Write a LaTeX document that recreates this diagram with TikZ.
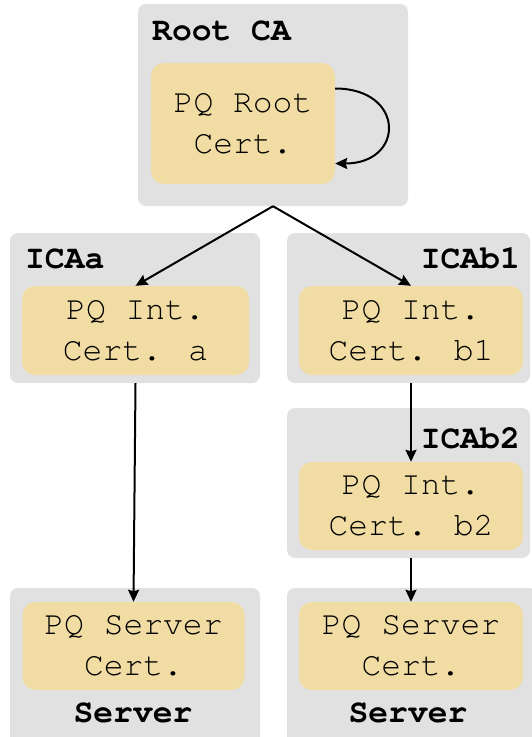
\documentclass[tikz,border=0pt]{standalone}
\usepackage{fontspec}
\newfontfamily\mono{texgyrecursor}[Extension=.otf,UprightFont=*-regular,BoldFont=*-bold]
\usetikzlibrary{arrows.meta,calc}
\definecolor{boxgray}{HTML}{E1E1E1}
\definecolor{certyel}{HTML}{F1DCA3}
\tikzset{
  group/.style={fill=boxgray,draw=none,rounded corners=8pt,inner sep=0pt},
  cert/.style={fill=certyel,draw=none,rounded corners=13pt,inner sep=0pt,align=center,
    font=\mono\fontsize{33}{41}\selectfont,text=black},
  lbl/.style={inner sep=0pt,font=\mono\bfseries\fontsize{33}{41}\selectfont},
  arr/.style={draw,line width=2pt,-{Stealth[length=12pt,width=11pt,inset=1.5pt]}}
}
\begin{document}
\begin{tikzpicture}[x=1pt,y=-1pt]
\useasboundingbox (0,0) rectangle (531,737);
\fill[white] (0,0) rectangle (531,737);
% groups
\node[group,minimum width=270pt,minimum height=202pt] (root) at (273,105) {};
\node[group,minimum width=250pt,minimum height=150pt] (icaa) at (135,308) {};
\node[group,minimum width=243pt,minimum height=150pt] (icab1) at (408.5,308) {};
\node[group,minimum width=243pt,minimum height=150pt] (icab2) at (408.5,483) {};
\node[group,minimum width=250pt,minimum height=160pt] (srva) at (135,668) {};
\node[group,minimum width=250pt,minimum height=160pt] (srvb) at (412,668) {};
% labels
\node[lbl,anchor=base west] (lroot) at (152,40) {Root CA};
\node[lbl,anchor=base west] (licaa) at (25,268) {ICAa};
\node[lbl,anchor=base east] (licab1) at (520,268) {ICAb1};
\node[lbl,anchor=base east] (licab2) at (520,448) {ICAb2};
\node[lbl,anchor=base] (lsrva) at (133,722) {Server};
\node[lbl,anchor=base] (lsrvb) at (408,722) {Server};
% certificates
\node[cert,minimum width=184pt,minimum height=121pt] (rootcert) at (243,123.5) {PQ Root\\Cert.};
\node[cert,minimum width=227pt,minimum height=89pt] (certa) at (135.5,330.5) {PQ Int.\\Cert. a};
\node[cert,minimum width=224pt,minimum height=89pt] (certb1) at (411,330.5) {PQ Int.\\Cert. b1};
\node[cert,minimum width=224pt,minimum height=88pt] (certb2) at (411,506) {PQ Int.\\Cert. b2};
\node[cert,minimum width=222pt,minimum height=88pt] (srvcerta) at (133.5,646) {PQ Server\\Cert.};
\node[cert,minimum width=224pt,minimum height=88pt] (srvcertb) at (411,646) {PQ Server\\Cert.};
% connectors
\draw[arr] ($(rootcert.east)+(0,-35)$) .. controls +(70,0) and +(70,0) .. ($(rootcert.east)+(0,40)$);
\draw[arr] (root.south) -- (certa.north);
\draw[arr] (root.south) -- (certb1.north);
\draw[arr] (certa.south |- icaa.south) -- (srvcerta.north);
\draw[arr] (certb1.south |- icab1.south) -- (certb2.north);
\draw[arr] (certb2.south |- icab2.south) -- (srvcertb.north);
\end{tikzpicture}
\end{document}
